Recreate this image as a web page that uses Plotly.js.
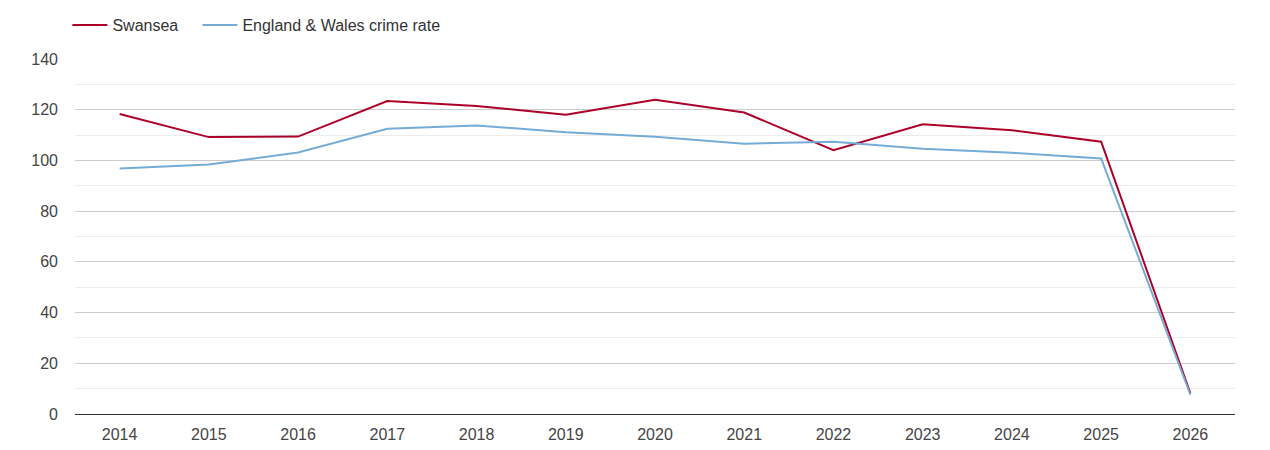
<!DOCTYPE html>
<html>
<head>
<meta charset="utf-8">
<script src="https://cdn.plot.ly/plotly-3.0.1.min.js"></script>
<style>
  html, body { margin: 0; padding: 0; background: #fff; }
  #plot { width: 1270px; height: 450px; }
</style>
</head>
<body>
<div id="plot"></div>
<script>
// crime rate index
var years = [2014, 2015, 2016, 2017, 2018, 2019, 2020, 2021, 2022, 2023, 2024, 2025, 2026]
var swansea = [118.3, 109.2, 109.4, 123.4, 121.5, 118.0, 123.9, 118.9, 104.0, 114.3, 111.9, 107.4, 8.2]
var englandWales = [96.8, 98.4, 103.1, 112.5, 113.8, 111.1, 109.3, 106.6, 107.4, 104.6, 103.0, 100.8, 7.6]
var yTicks = [0, 20, 40, 60, 80, 100, 120, 140]

function legendAt(px) {
	// one legend box per series, placed by pixel in the container
	return {
		orientation: 'h',
		xref: 'container', yref: 'container',
		x: px / 1270, xanchor: 'left',
		y: 1 - 25 / 450, yanchor: 'middle',
		font: {size: 16, color: '#333'},
		itemwidth: 35,
		bgcolor: 'rgba(0,0,0,0)'
	}
}

function draw() {
	try {
		var data = []
		data.push({
			x: years,
			y: swansea,
			name: 'Swansea',
			type: 'scatter',
			mode: 'lines',
			legend: 'legend',
			line: {color: '#ad0029', width: 2}
		})
		data.push({
			x: years,
			y: englandWales,
			name: 'England & Wales crime rate',
			type: 'scatter',
			mode: 'lines',
			legend: 'legend2',
			line: {color: '#74acd6', width: 2}
		})

		var layout = {
			width: 1270,
			height: 450,
			margin: {l: 75, r: 35, t: 59, b: 36},
			paper_bgcolor: '#fff',
			plot_bgcolor: '#fff',
			font: {family: '"Liberation Sans", Arial, sans-serif', size: 16, color: '#444'},
			showlegend: true,
			legend: legendAt(67.4),
			legend2: legendAt(197.4),
			xaxis: {
				range: [2013.5, 2026.5],
				tickvals: years,
				ticktext: years.map(String),
				showgrid: false,
				zeroline: false,
				showline: true,
				linecolor: '#333',
				linewidth: 1,
				ticks: '',
				ticklabelstandoff: 6,
				fixedrange: true
			},
			yaxis: {
				range: [0, 140],
				tickvals: yTicks,
				showgrid: true,
				gridcolor: '#cccccc',
				gridwidth: 1,
				zeroline: false,
				showline: false,
				ticks: '',
				ticklabelstandoff: 16,
				minor: {dtick: 10, showgrid: true, gridcolor: '#ececec', gridwidth: 1},
				fixedrange: true
			}
		}

		Plotly.newPlot('plot', data, layout, {displayModeBar: false, staticPlot: true})
	}
	catch (err) {
		console.log(err)
	}
}

draw()
</script>
</body>
</html>
